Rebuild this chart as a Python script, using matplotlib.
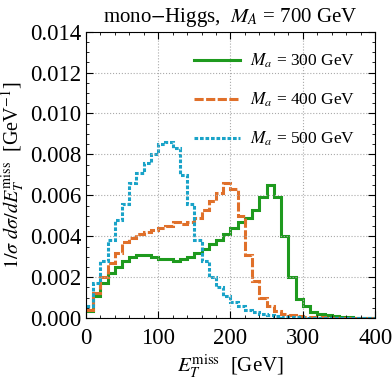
import matplotlib
matplotlib.use("Agg")
import matplotlib.pyplot as plt
import numpy as np
from matplotlib.ticker import MultipleLocator, FormatStrFormatter

plt.rcParams['font.family'] = ['Liberation Serif', 'DejaVu Serif']
plt.rcParams['mathtext.fontset'] = 'stix'

# binned MET distributions, 10 GeV bins from 0 to 400
edges = np.arange(0, 410, 10)
ma300 = [0.00035, 0.0011, 0.0017, 0.0022, 0.0025, 0.0028, 0.0030, 0.0031, 0.0031, 0.0030,
         0.0029, 0.0029, 0.0028, 0.0029, 0.0030, 0.0032, 0.0034, 0.0036, 0.0038, 0.0041,
         0.0044, 0.0047, 0.0049, 0.0053, 0.0059, 0.0065, 0.0059, 0.0040, 0.0020, 0.00095,
         0.0006, 0.0003, 0.0002, 0.00013, 0.0001, 0.00007, 0.00005, 0.00003, 0.00002, 0.00001]
ma400 = [0.0004, 0.00125, 0.0020, 0.0027, 0.0032, 0.0037, 0.0039, 0.0041, 0.0042, 0.0043,
         0.0044, 0.0045, 0.0047, 0.0046, 0.0047, 0.0049, 0.0053, 0.0057, 0.0061, 0.0066,
         0.0063, 0.0050, 0.0031, 0.0018, 0.0010, 0.0006, 0.00035, 0.00022, 0.00015, 0.0001,
         0.00007, 0.00005, 0.00004, 0.00003, 0.00002, 0.00002, 0.00001, 0.00001, 0.00001, 0.00001]
ma500 = [0.00057, 0.0017, 0.0028, 0.0038, 0.0048, 0.0056, 0.0066, 0.0071, 0.0076, 0.0080,
         0.0085, 0.0086, 0.0083, 0.0070, 0.0056, 0.0038, 0.0028, 0.0020, 0.0015, 0.0011,
         0.0008, 0.0006, 0.0004, 0.0003, 0.0002, 0.00015, 0.0001, 0.00007, 0.00005, 0.00004,
         0.00003, 0.00002, 0.00002, 0.00001, 0.00001, 0.00001, 0.00001, 0.0, 0.0, 0.0]

labels = ["$M_a$ = 300 GeV", "$M_a$ = 400 GeV", "$M_a$ = 500 GeV"]
colors = ["#1e9a1e", "#e0702a", "#1aa3c8"]
styles = ["-", (0, (3.0, 0.8)), (0, (1.2, 0.6))]

fig = plt.figure(figsize=(3.92, 3.81), dpi=100)
ax = fig.add_axes([0.219, 0.165, 0.738, 0.752])

for vals, lab, c, ls in zip([ma300, ma400, ma500], labels, colors, styles):
    ax.stairs(vals, edges, baseline=None, color=c, lw=2.2, ls=ls, label=lab)

ax.set_xlim(0, 400)
ax.set_ylim(0, 0.014)
ax.xaxis.set_major_locator(MultipleLocator(100))
ax.xaxis.set_minor_locator(MultipleLocator(20))
ax.yaxis.set_major_locator(MultipleLocator(0.002))
ax.yaxis.set_minor_locator(MultipleLocator(0.0005))
ax.yaxis.set_major_formatter(FormatStrFormatter('%.3f'))
ax.tick_params(which='both', direction='in', top=True, right=True, labelsize=16.5,
               labelfontfamily='Liberation Serif')
ax.tick_params(which='major', length=5, width=0.8)
ax.tick_params(which='minor', length=2.5, width=0.6)
ax.tick_params(axis='x', which='major', pad=7)
ax.tick_params(axis='y', which='major', pad=3)
ax.grid(True, which='major', ls=':', color='#aaaaaa', lw=0.8)

ax.set_title("mono$-$Higgs,  $M_A$ = 700 GeV", fontsize=15, pad=7)
ax.set_xlabel(r"$E_T^{\rm miss}$  [GeV]", fontsize=15, labelpad=3)
ax.set_ylabel(r"$1/\sigma\ d\sigma/dE_T^{\rm miss}$  [GeV$^{-1}$]", fontsize=14.5)
ax.yaxis.set_label_coords(-0.205, 0.5)

ax.legend(loc='upper right', frameon=False, fontsize=12.5, handlelength=2.6,
          labelspacing=1.2, borderaxespad=0.75, handletextpad=0.6)

fig.savefig("out.png", dpi=100)
